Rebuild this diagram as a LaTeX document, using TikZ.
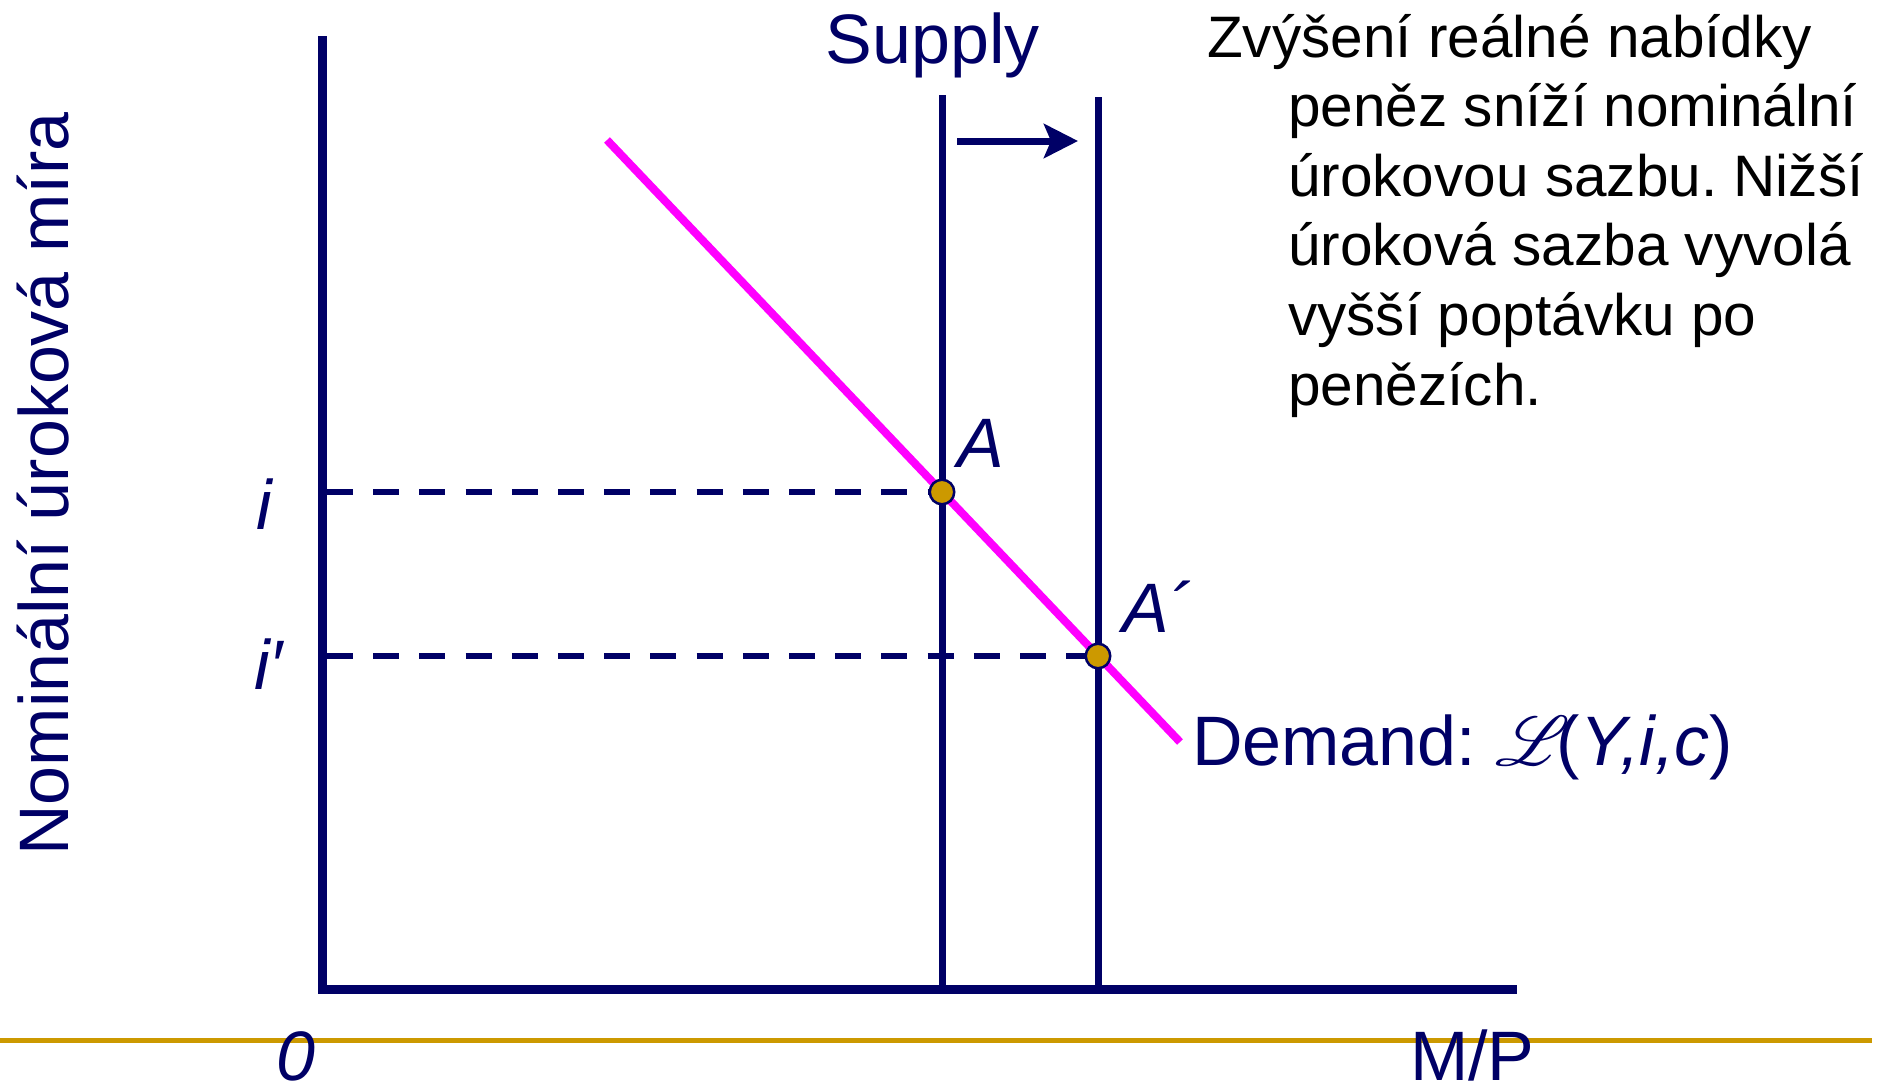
\documentclass[tikz,border=0pt]{standalone}
\usepackage{fontspec}
\setmainfont{Liberation Sans}
\usetikzlibrary{arrows.meta}
\definecolor{navy}{RGB}{0,0,102}
\definecolor{goldc}{RGB}{204,153,0}
\definecolor{magc}{RGB}{255,0,255}
\DeclareFontFamily{U}{rsfsx}{}
\DeclareFontShape{U}{rsfsx}{m}{n}{<-> rsfs10}{}
\newcommand{\scrL}{{\usefont{U}{rsfsx}{m}{n}L}}
\frenchspacing
\begin{document}
\begin{tikzpicture}[x=1pt,y=-1pt,
  lbl/.style={inner sep=0pt, text=navy, font=\fontsize{70}{84}\selectfont},
  axisline/.style={draw=navy, line width=9pt},
  supplyline/.style={draw=navy, line width=7pt},
  dashline/.style={draw=navy, line width=6pt, dash pattern=on 26pt off 20.2pt},
  demandline/.style={draw=magc, line width=8pt},
  eqpoint/.style={circle, minimum size=24.5pt, inner sep=0pt, fill=goldc, draw=navy, line width=2.5pt},
  shiftarrow/.style={draw=navy, line width=7pt, -{Stealth[length=34pt,width=34pt,inset=7pt]}}
]
\useasboundingbox (0,0) rectangle (1888,1088);
\fill[white] (0,0) rectangle (1888,1088);

% coordinates
\coordinate (O) at (322.5,989.5);
\coordinate (Ytop) at (322.5,36);
\coordinate (Xend) at (1517,989.5);
\coordinate (A) at (942,492);
\coordinate (Ap) at (1098,656);
\coordinate (S1top) at (942,95);
\coordinate (S2top) at (1098,97);
\coordinate (S1bot) at (942,989.5);
\coordinate (S2bot) at (1098,989.5);
\coordinate (Dstart) at (607,140);
\coordinate (Dend) at (1180,742);
\coordinate (iL) at (327,492);
\coordinate (ipL) at (327,656);
\coordinate (arrS) at (957,141);
\coordinate (arrE) at (1078,141);
\coordinate (gL) at (0,1040);
\coordinate (gR) at (1872,1040);

% baseline rule
\draw[draw=goldc, line width=5pt] (gL) -- (gR);

% dashed guides
\draw[dashline] (iL) -- (A);
\draw[dashline] (ipL) -- (Ap);

% supply curves
\draw[supplyline] (S1top) -- (S1bot);
\draw[supplyline] (S2top) -- (S2bot);

% axes
\draw[axisline] (Ytop) -- (O) -- (Xend);

% demand
\draw[demandline] (Dstart) -- (Dend);

% shift arrow
\draw[shiftarrow] (arrS) -- (arrE);

% equilibrium points
\node[eqpoint] (Adot) at (A) {};
\node[eqpoint] (Apdot) at (Ap) {};

% labels
\node[lbl, anchor=base] (supply) at (933,63) {Supply};
\node[lbl, anchor=base, rotate=90] (ylab) at (68,484) {Nominální úroková míra};
\node[lbl, anchor=base] (ilab) at (264,529) {\itshape i};
\node[lbl, anchor=base west] (iplab) at (254,689) {\itshape i′};
\node[lbl, anchor=base west] (zero) at (276,1080) {\itshape 0};
\node[lbl, anchor=base west] (mp) at (1410,1080) {M/P};
\node[lbl, anchor=base west] (Alab) at (957,467) {\itshape A};
\node[lbl, anchor=base west] (Aplab) at (1122,632) {\itshape A´};
\node[lbl, anchor=base west] (dem) at (1192,765) {Demand: \scrL(\textit{Y,i,c})};

\node[anchor=base west, inner sep=0pt, text=black, font=\fontsize{58.5}{69.6}\selectfont] (para) at (1207,57)
  {\vtop{\baselineskip=69.6pt
    \hbox{Zvýšení reálné nabídky}
    \hbox{\hspace{81pt}peněz sníží nominální}
    \hbox{\hspace{81pt}úrokovou sazbu. Nižší}
    \hbox{\hspace{81pt}úroková sazba vyvolá}
    \hbox{\hspace{81pt}vyšší poptávku po}
    \hbox{\hspace{81pt}penězích.}}};
\end{tikzpicture}
\end{document}
